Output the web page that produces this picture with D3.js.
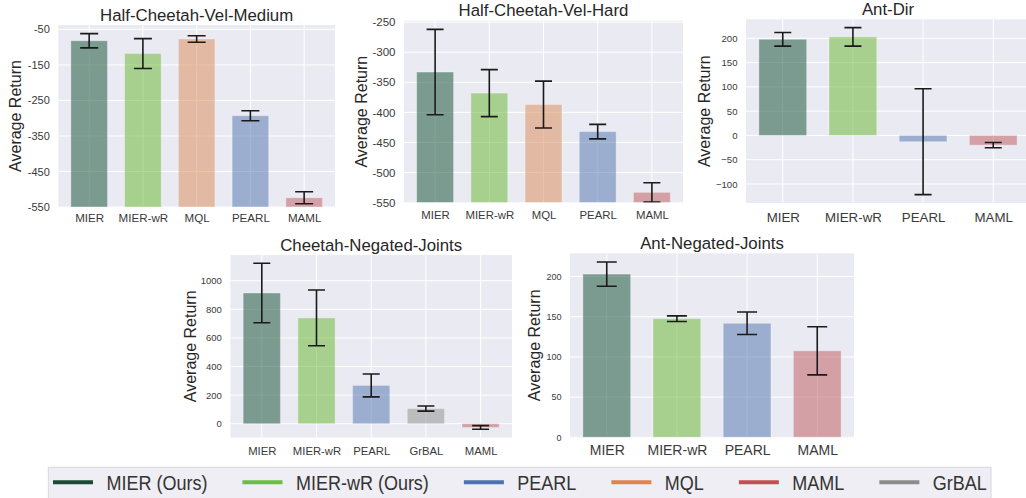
<!DOCTYPE html>
<html>
<head>
<meta charset="utf-8">
<script src="https://cdn.jsdelivr.net/npm/d3@7"></script>
<style>
  html, body { margin: 0; padding: 0; background: #ffffff; }
  svg { display: block; font-family: "Liberation Sans", Arial, sans-serif; }
</style>
</head>
<body>
<svg id="chart" width="1026" height="498"></svg>
<script>
// ---------------- DATA ----------------
const hcvmTitle = "Half-Cheetah-Vel-Medium";
const hcvmCats = ["MIER", "MIER-wR", "MQL", "PEARL", "MAML"];
const hcvmMeans = [-82, -118, -77, -293, -524];
const hcvmErrs = [20, 42, 9, 14, 17];
const hcvmTicks = [-550, -450, -350, -250, -150, -50];

const hcvhTitle = "Half-Cheetah-Vel-Hard";
const hcvhCats = ["MIER", "MIER-wR", "MQL", "PEARL", "MAML"];
const hcvhMeans = [-333, -368, -387, -432, -533];
const hcvhErrs = [71, 39, 39, 12, 16];
const hcvhTicks = [-550, -500, -450, -400, -350, -300, -250];

const antDirTitle = "Ant-Dir";
const antDirCats = ["MIER", "MIER-wR", "PEARL", "MAML"];
const antDirMeans = [198, 203, -13, -20];
const antDirErrs = [14, 19, 109, 5.5];
const antDirTicks = [-100, -50, 0, 50, 100, 150, 200];

const cnjTitle = "Cheetah-Negated-Joints";
const cnjCats = ["MIER", "MIER-wR", "PEARL", "GrBAL", "MAML"];
const cnjMeans = [914, 740, 268, 106, -26];
const cnjErrs = [208, 195, 80, 18, 13];
const cnjTicks = [0, 200, 400, 600, 800, 1000];

const anjTitle = "Ant-Negated-Joints";
const anjCats = ["MIER", "MIER-wR", "PEARL", "MAML"];
const anjMeans = [203, 147.6, 141.8, 107.6];
const anjErrs = [15, 3.5, 14, 30];
const anjTicks = [0, 50, 100, 150, 200];

const legendLabels = ["MIER (Ours)", "MIER-wR (Ours)", "PEARL", "MQL", "MAML", "GrBAL"];
const legendKeys = ["MIER", "MIER-wR", "PEARL", "MQL", "MAML", "GrBAL"];

// ---------------- STYLE ----------------
const barBase = {
  "MIER": "#0c4a2e", "MIER-wR": "#64b52c", "MQL": "#da8852",
  "PEARL": "#4e72ae", "MAML": "#bc565a", "GrBAL": "#8e8e8a"
};
const legendColor = {
  "MIER": "#1b4b34", "MIER-wR": "#6cbd45", "PEARL": "#4c72b0",
  "MQL": "#dd8452", "MAML": "#c44e52", "GrBAL": "#8c8c8c"
};

const panels = [
  { title: hcvmTitle, cats: hcvmCats, means: hcvmMeans, errs: hcvmErrs, ticks: hcvmTicks, base: -550, sticky: true,
    rect: [58.3, 25, 335, 207], ytf: 11, xtf: 11.6, xtOff: 14.7, ylOff: 37.6, cap: 18, minus: "-" },
  { title: hcvhTitle, cats: hcvhCats, means: hcvhMeans, errs: hcvhErrs, ticks: hcvhTicks, base: -550, sticky: true,
    rect: [404, 20.7, 683, 202.6], ytf: 11.5, xtf: 11.4, xtOff: 16.5, ylOff: 37.3, cap: 17, minus: "-" },
  { title: antDirTitle, cats: antDirCats, means: antDirMeans, errs: antDirErrs, ticks: antDirTicks, base: 0, sticky: false,
    rect: [746, 19.3, 1030, 203], ytf: 9.6, xtf: 13.3, xtOff: 19, ylOff: 36, cap: 17, minus: "\u2212" },
  { title: cnjTitle, cats: cnjCats, means: cnjMeans, errs: cnjErrs, ticks: cnjTicks, base: 0, sticky: false,
    rect: [230.4, 255, 512, 437.6], ytf: 9.5, xtf: 11.3, xtOff: 17.7, ylOff: 34.4, cap: 17, minus: "\u2212" },
  { title: anjTitle, cats: anjCats, means: anjMeans, errs: anjErrs, ticks: anjTicks, base: 0, sticky: true,
    rect: [570, 253.3, 854, 437.3], ytf: 9, xtf: 14, xtOff: 17.7, ylOff: 30, cap: 20, minus: "\u2212" }
];

const svg = d3.select("#chart");
const BW = 0.68;

panels.forEach((p, pi) => {
  const [L, T, R, B] = p.rect;
  const n = p.cats.length;
  const span = (n - 1) + BW;
  const x = d3.scaleLinear()
    .domain([-BW / 2 - 0.05 * span, (n - 1) + BW / 2 + 0.05 * span])
    .range([L, R]);

  const lows = p.means.map((m, i) => m - p.errs[i]);
  const highs = p.means.map((m, i) => m + p.errs[i]);
  const lo = Math.min(p.base, d3.min(lows));
  const hi = Math.max(p.base, d3.max(highs));
  const r = hi - lo;
  const y = d3.scaleLinear()
    .domain([p.sticky ? lo : lo - 0.05 * r, hi + 0.05 * r])
    .range([B, T]);

  const clipId = "clip" + pi;
  svg.append("clipPath").attr("id", clipId)
    .append("rect").attr("x", L).attr("y", T).attr("width", R - L).attr("height", B - T);

  const g = svg.append("g");
  g.append("rect").attr("x", L).attr("y", T).attr("width", R - L).attr("height", B - T)
    .attr("fill", "#eaeaf2");

  const inner = g.append("g").attr("clip-path", `url(#${clipId})`);

  // grid
  inner.selectAll(".hg").data(p.ticks).enter().append("line")
    .attr("x1", L).attr("x2", R)
    .attr("y1", d => y(d)).attr("y2", d => y(d))
    .attr("stroke", "#ffffff").attr("stroke-width", 1);
  inner.selectAll(".vg").data(p.cats).enter().append("line")
    .attr("x1", (d, i) => x(i)).attr("x2", (d, i) => x(i))
    .attr("y1", T).attr("y2", B)
    .attr("stroke", "#ffffff").attr("stroke-width", 1);

  // bars
  const bw = x(BW) - x(0);
  inner.selectAll(".bar").data(p.means).enter().append("rect")
    .attr("x", (d, i) => x(i) - bw / 2)
    .attr("width", bw)
    .attr("y", d => Math.min(y(d), y(p.base)))
    .attr("height", d => Math.abs(y(d) - y(p.base)))
    .attr("fill", (d, i) => barBase[p.cats[i]])
    .attr("fill-opacity", 0.5)
    .attr("stroke", "#ffffff").attr("stroke-opacity", 0.3).attr("stroke-width", 1);

  // error bars
  const eb = inner.selectAll(".eb").data(p.means).enter().append("g");
  eb.append("line")
    .attr("x1", (d, i) => x(i)).attr("x2", (d, i) => x(i))
    .attr("y1", (d, i) => y(d - p.errs[i])).attr("y2", (d, i) => y(d + p.errs[i]));
  eb.append("line")
    .attr("x1", (d, i) => x(i) - p.cap / 2).attr("x2", (d, i) => x(i) + p.cap / 2)
    .attr("y1", (d, i) => y(d - p.errs[i])).attr("y2", (d, i) => y(d - p.errs[i]));
  eb.append("line")
    .attr("x1", (d, i) => x(i) - p.cap / 2).attr("x2", (d, i) => x(i) + p.cap / 2)
    .attr("y1", (d, i) => y(d + p.errs[i])).attr("y2", (d, i) => y(d + p.errs[i]));
  eb.selectAll("line").attr("stroke", "#1a1a1a").attr("stroke-width", 1.6);

  // y ticks via axis
  const yAxis = d3.axisLeft(y).tickValues(p.ticks).tickSize(0).tickPadding(8.5)
    .tickFormat(d => (d < 0 ? p.minus : "") + Math.abs(d));
  const ya = g.append("g").attr("transform", `translate(${L},0)`).call(yAxis);
  ya.select(".domain").remove();
  ya.selectAll("text").attr("font-size", p.ytf).attr("fill", "#3a3a3a")
    .attr("font-family", "Liberation Sans, Arial, sans-serif");

  // x ticks via axis
  const xAxis = d3.axisBottom(x).tickValues(d3.range(n)).tickSize(0).tickPadding(0)
    .tickFormat(i => p.cats[i]);
  const xa = g.append("g").attr("transform", `translate(0,${B})`).call(xAxis);
  xa.select(".domain").remove();
  xa.selectAll("text").attr("font-size", p.xtf).attr("fill", "#3a3a3a")
    .attr("dy", null).attr("y", p.xtOff)
    .attr("font-family", "Liberation Sans, Arial, sans-serif");

  // title
  g.append("text").attr("x", (L + Math.min(R, 1030)) / 2).attr("y", T - 4.5)
    .attr("text-anchor", "middle").attr("font-size", 16.8).attr("fill", "#262626")
    .text(p.title);

  // y label
  g.append("text")
    .attr("transform", `translate(${L - p.ylOff},${(T + B) / 2}) rotate(-90)`)
    .attr("text-anchor", "middle").attr("font-size", 16).attr("fill", "#262626")
    .text("Average Return");
});

// ---------------- LEGEND ----------------
const lg = svg.append("g");
lg.append("rect").attr("x", 48.3).attr("y", 467.3).attr("width", 991 - 48.3).attr("height", 40)
  .attr("fill", "#eeeef4").attr("stroke", "#d6d6dd").attr("stroke-width", 1);

let cx = 53;
legendKeys.forEach((k, i) => {
  lg.append("line").attr("x1", cx).attr("x2", cx + 40).attr("y1", 482.3).attr("y2", 482.3)
    .attr("stroke", legendColor[k]).attr("stroke-width", 4);
  const tx = cx + 53.5;
  const t = lg.append("text")
    .attr("transform", `translate(${tx},490) scale(0.9,1)`)
    .attr("font-size", 20).attr("fill", "#333333")
    .text(legendLabels[i]);
  const w = t.node().getComputedTextLength() * 0.9;
  cx = tx + w + 35;
});
</script>
</body>
</html>
